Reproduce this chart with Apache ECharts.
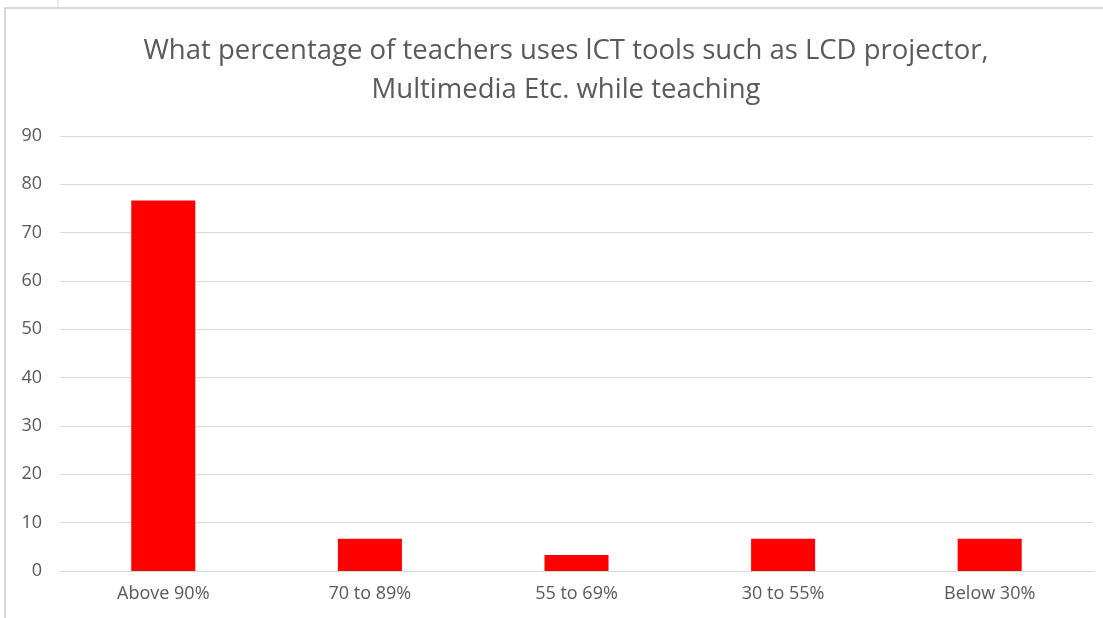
<!DOCTYPE html>
<html>
<head>
<meta charset="utf-8">
<script src="https://cdn.jsdelivr.net/npm/echarts@6/dist/echarts.min.js"></script>
<style>
  html, body { margin: 0; padding: 0; background: #fff; }
  #main { width: 1103px; height: 618px; }
</style>
</head>
<body>
<div id="main"></div>
<script>
var categories = ['Above 90%', '70 to 89%', '55 to 69%', '30 to 55%', 'Below 30%'];
var percentValues = [76.67, 6.67, 3.33, 6.67, 6.67];
var yTicks = [0, 10, 20, 30, 40, 50, 60, 70, 80, 90];

var chart = echarts.init(document.getElementById('main'));

var option = {
    backgroundColor: '#fff',
    animation: false,
    title: {
        text: 'What percentage of teachers uses lCT tools such as LCD projector,\nMultimedia Etc. while teaching',
        left: 561,
        top: 27,
        textAlign: 'center',
        textStyle: {
            fontFamily: 'Open Sans',
            fontSize: 27.5,
            fontWeight: 'normal',
            color: '#595959',
            lineHeight: 39
        }
    },
    grid: {
        left: 60,
        right: 10,
        top: 136,
        bottom: 47,
        containLabel: false
    },
    xAxis: {
        type: 'category',
        data: categories,
        axisLine: { show: true, lineStyle: { color: '#d9d9d9', width: 1 } },
        axisTick: { show: false },
        axisLabel: {
            fontFamily: 'Open Sans',
            fontSize: 18,
            color: '#595959',
            margin: 14
        }
    },
    yAxis: {
        type: 'value',
        min: yTicks[0],
        max: yTicks[yTicks.length - 1],
        interval: 10,
        axisLine: { show: false },
        axisTick: { show: false },
        axisLabel: {
            fontFamily: 'Open Sans',
            fontSize: 18,
            color: '#595959',
            margin: 18
        },
        splitLine: { lineStyle: { color: '#d9d9d9', width: 1 } }
    },
    series: [{
        type: 'bar',
        data: percentValues,
        barWidth: '31%',
        itemStyle: { color: '#ff0000' }
    }],
    graphic: [
        // outer chart frame, partly cut off in the screenshot
        {
            type: 'polyline',
            shape: { points: [[5, 618], [5, 8], [1103, 8]] },
            style: { stroke: '#d9d9d9', lineWidth: 2, fill: null }
        },
        {
            type: 'line',
            shape: { x1: 58, y1: 0, x2: 58, y2: 8 },
            style: { stroke: '#d9d9d9', lineWidth: 1 }
        }
    ]
};

chart.setOption(option);
</script>
</body>
</html>
